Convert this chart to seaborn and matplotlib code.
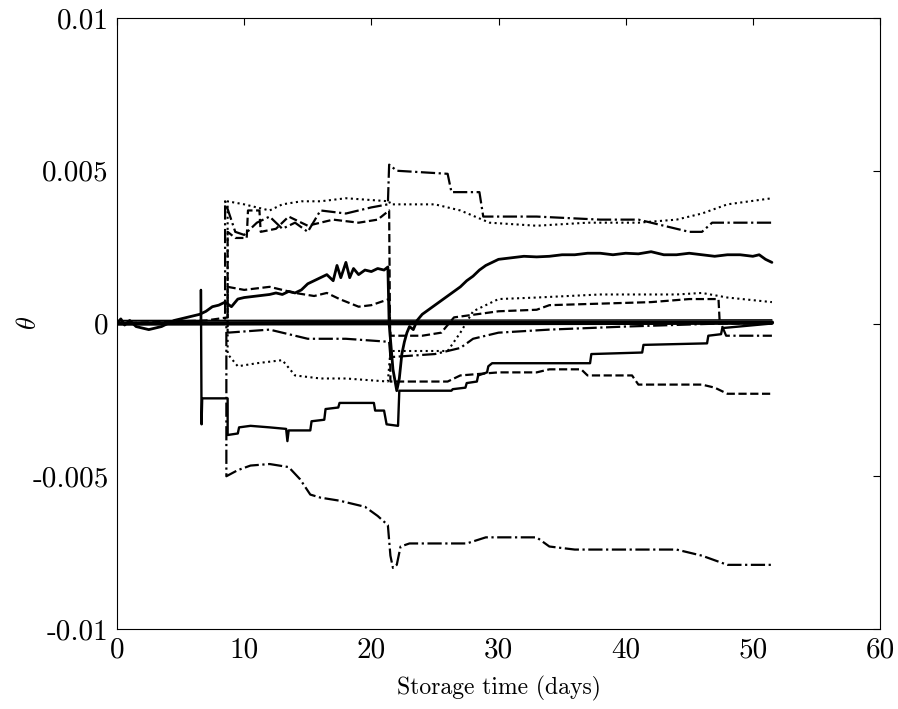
import numpy as np
import pandas as pd
import matplotlib
matplotlib.use("Agg")
import matplotlib.pyplot as plt
import seaborn as sns

# ---- data (x in days, y in units of 1e-3) ----
base_x = [0, 51.5]
base_y = [0.0, 0.03]
thin_x = [0, 51.5]
thin_y = [0.1, 0.12]

upper_solid_x = [0, 0.3, 0.6, 1.0, 1.5, 2.0, 2.5, 3.0, 3.5, 4.0, 4.5, 5.0, 5.5, 6.0, 6.5,
                 7.0, 7.5, 8.0, 8.5, 9.0, 9.5, 10, 11, 12, 12.5, 13, 13.5, 14, 14.5, 15, 15.5,
                 16, 16.5, 17, 17.3, 17.6, 18, 18.3, 18.6, 19, 19.5, 20, 20.5, 21.0, 21.3,
                 21.4, 21.7, 22.0, 22.2, 22.4, 22.6, 22.8, 23.0, 23.3, 23.6, 24, 24.5, 25,
                 25.5, 26, 26.5, 27, 27.5, 28, 28.5, 29, 29.5, 30, 31, 32, 33, 34, 35, 36,
                 37, 38, 39, 40, 41, 42, 43, 44, 45, 46, 47, 48, 49, 50, 50.5, 51, 51.5]
upper_solid_y = [0.0, 0.15, -0.05, 0.1, -0.1, -0.15, -0.2, -0.15, -0.1, 0.0, 0.1, 0.15, 0.2,
                 0.25, 0.3, 0.4, 0.55, 0.6, 0.7, 0.55, 0.8, 0.85, 0.9, 0.95, 1.0, 0.95, 1.05,
                 1.0, 1.1, 1.3, 1.4, 1.5, 1.6, 1.4, 1.9, 1.5, 2.0, 1.5, 1.8, 1.6, 1.75, 1.7,
                 1.8, 1.75, 1.85, 0.0, -1.5, -2.2, -1.8, -1.0, -0.6, -0.3, -0.1, -0.2, 0.1,
                 0.3, 0.45, 0.6, 0.75, 0.9, 1.05, 1.2, 1.4, 1.55, 1.75, 1.9, 2.0, 2.1, 2.15,
                 2.2, 2.18, 2.2, 2.25, 2.25, 2.3, 2.3, 2.25, 2.3, 2.28, 2.35, 2.25, 2.25, 2.3,
                 2.25, 2.2, 2.25, 2.25, 2.2, 2.25, 2.1, 2.0]

lower_solid_x = [0, 6.6, 6.6, 6.65, 6.7, 8.7, 8.7, 9.5, 9.6, 10.5, 12, 13.3, 13.4, 13.5,
                 15.2, 15.3, 16.3, 16.4, 17.4, 17.5, 20.2, 20.3, 21.0, 21.2, 22.1, 22.2,
                 26.3, 26.4, 27.4, 27.5, 28.3, 28.4, 29.1, 29.2, 29.5, 37.2, 37.3, 41.3,
                 41.4, 46.4, 46.5, 47.5, 47.6, 51.5]
lower_solid_y = [0, 0.05, 1.1, -3.3, -2.45, -2.45, -3.65, -3.6, -3.4, -3.35, -3.4, -3.45,
                 -3.85, -3.5, -3.5, -3.2, -3.15, -2.8, -2.75, -2.6, -2.6, -2.85, -2.85, -3.3,
                 -3.35, -2.2, -2.2, -2.15, -2.1, -1.95, -1.9, -1.7, -1.6, -1.4, -1.3, -1.3,
                 -1.0, -0.95, -0.7, -0.65, -0.4, -0.35, -0.15, 0.0]

low_dashdot_x = [0, 8.6, 8.6, 9.5, 10.5, 12, 13.5, 14.4, 15.2, 16, 17.5, 19.5, 20.5, 21.3,
                 21.5, 21.7, 22.0, 22.3, 23, 27.5, 29, 33, 34, 36, 44, 46, 48, 51.5]
low_dashdot_y = [0, 0, -5.0, -4.8, -4.65, -4.6, -4.7, -5.1, -5.6, -5.7, -5.8, -6.0, -6.3,
                 -6.6, -7.6, -8.0, -7.9, -7.3, -7.2, -7.2, -7.0, -7.0, -7.3, -7.4, -7.4,
                 -7.6, -7.9, -7.9]

top_dashdot_x = [0, 8.5, 8.5, 9.3, 10, 11, 12, 13, 14, 15, 16, 18, 20, 21.3, 21.4, 22, 26,
                 26.3, 28.5, 28.8, 33, 38, 41, 43, 45, 46, 46.8, 51.5]
top_dashdot_y = [0, 0, 4.0, 3.0, 2.9, 3.3, 3.5, 3.1, 3.3, 3.0, 3.7, 3.6, 3.8, 3.9, 5.2, 5.0,
                 4.9, 4.3, 4.3, 3.5, 3.5, 3.4, 3.4, 3.2, 3.0, 3.0, 3.3, 3.3]

top_dotted_x = [0, 8.7, 8.7, 10, 12, 13, 14.5, 16, 18, 21.4, 21.5, 25, 27, 29.3, 33, 37, 41,
                44, 46, 48, 51.5]
top_dotted_y = [0, 0, 4.0, 3.9, 3.7, 3.9, 4.0, 4.0, 4.1, 4.0, 3.9, 3.9, 3.7, 3.3, 3.2, 3.3,
                3.3, 3.4, 3.6, 3.9, 4.1]

mid_dotted_x = [0, 8.7, 8.7, 9.5, 11, 13, 14, 16, 18, 21.3, 21.5, 26, 27, 28, 30, 33, 38,
                44, 46, 48, 51.5]
mid_dotted_y = [0, 0, -1.0, -1.4, -1.3, -1.2, -1.7, -1.8, -1.8, -1.9, -0.9, -0.9, -0.3, 0.4,
                0.8, 0.85, 0.95, 0.95, 1.0, 0.85, 0.7]

low_dashed_x = [0, 8.7, 8.7, 9.3, 10.2, 10.3, 11.2, 11.3, 12.5, 13.5, 15, 17, 19, 20.5,
                21.4, 21.5, 26, 27, 30, 33, 34, 36.5, 37, 40.5, 41, 46, 47, 48, 51.5]
low_dashed_y = [0, 0, 3.0, 2.8, 2.8, 3.7, 3.7, 3.0, 3.1, 3.5, 3.2, 3.4, 3.3, 3.4, 3.7, -1.9,
                -1.9, -1.7, -1.6, -1.6, -1.5, -1.5, -1.7, -1.7, -2.0, -2.0, -2.1, -2.3, -2.3]

mid_dashed_x = [0, 7, 8.7, 8.7, 10, 12, 14, 15.5, 16.5, 17.5, 19, 20, 21.4, 21.5, 24, 25.5,
                26.5, 30, 33, 34, 38, 42, 45, 47.3, 47.4, 51.5]
mid_dashed_y = [0, 0.1, 0.2, 1.2, 1.1, 1.2, 1.0, 0.9, 1.0, 0.8, 0.55, 0.6, 0.8, -0.4, -0.4,
                -0.3, 0.2, 0.4, 0.45, 0.6, 0.65, 0.7, 0.8, 0.8, 0.0, 0.0]

zero_dashdot_x = [0, 8.7, 8.7, 12, 15, 18, 21.4, 21.5, 25, 27, 28, 30, 34, 40, 47.5, 47.9,
                  51.5]
zero_dashdot_y = [0, 0, -0.3, -0.2, -0.5, -0.5, -0.6, -1.1, -1.0, -0.8, -0.5, -0.3, -0.2,
                  -0.1, 0.0, -0.4, -0.4]

x_ticks = [0, 10, 20, 30, 40, 50, 60]
y_ticks = [-0.01, -0.005, 0, 0.005, 0.01]
y_tick_labels = ["-0.01", "-0.005", "0", "0.005", "0.01"]

# ---- style ----
sns.set_theme(style="white")
plt.rcParams["font.family"] = ["cmr10", "DejaVu Serif"]
plt.rcParams["mathtext.fontset"] = "cm"
plt.rcParams["axes.unicode_minus"] = False

fig = plt.figure(figsize=(8.98, 7.09), dpi=100)
ax = fig.add_axes([117 / 898, 80 / 709, (880 - 117) / 898, (629 - 18) / 709])

series = [
    (base_x, base_y, "-", 3.2),
    (thin_x, thin_y, "-", 1.0),
    (upper_solid_x, upper_solid_y, "-", 2.0),
    (lower_solid_x, lower_solid_y, "-", 1.7),
    (low_dashdot_x, low_dashdot_y, "-.", 1.6),
    (top_dashdot_x, top_dashdot_y, "-.", 1.6),
    (top_dotted_x, top_dotted_y, ":", 1.5),
    (mid_dotted_x, mid_dotted_y, ":", 1.5),
    (low_dashed_x, low_dashed_y, "--", 1.6),
    (mid_dashed_x, mid_dashed_y, "--", 1.6),
    (zero_dashdot_x, zero_dashdot_y, "-.", 1.6),
]
for xs, ys, ls, lw in series:
    df = pd.DataFrame({"t": xs, "theta": np.array(ys) * 1e-3})
    sns.lineplot(data=df, x="t", y="theta", sort=False, estimator=None,
                 color="black", linestyle=ls, linewidth=lw, ax=ax)

ax.set_xlim(0, 60)
ax.set_ylim(-0.01, 0.01)
ax.set_xticks(x_ticks)
ax.set_xticklabels([str(v) for v in x_ticks])
ax.set_yticks(y_ticks)
ax.set_yticklabels(y_tick_labels)
ax.tick_params(direction="in", length=5, width=0.8, top=True, right=True,
               labelsize=21, colors="black", pad=6)
for s in ax.spines.values():
    s.set_color("black")
    s.set_linewidth(0.8)
ax.set_xlabel("Storage time (days)", fontsize=17, color="black", labelpad=9)
ax.set_ylabel(r"$\theta$", fontsize=19, color="black", labelpad=-6)

fig.savefig("out.png", dpi=100)
